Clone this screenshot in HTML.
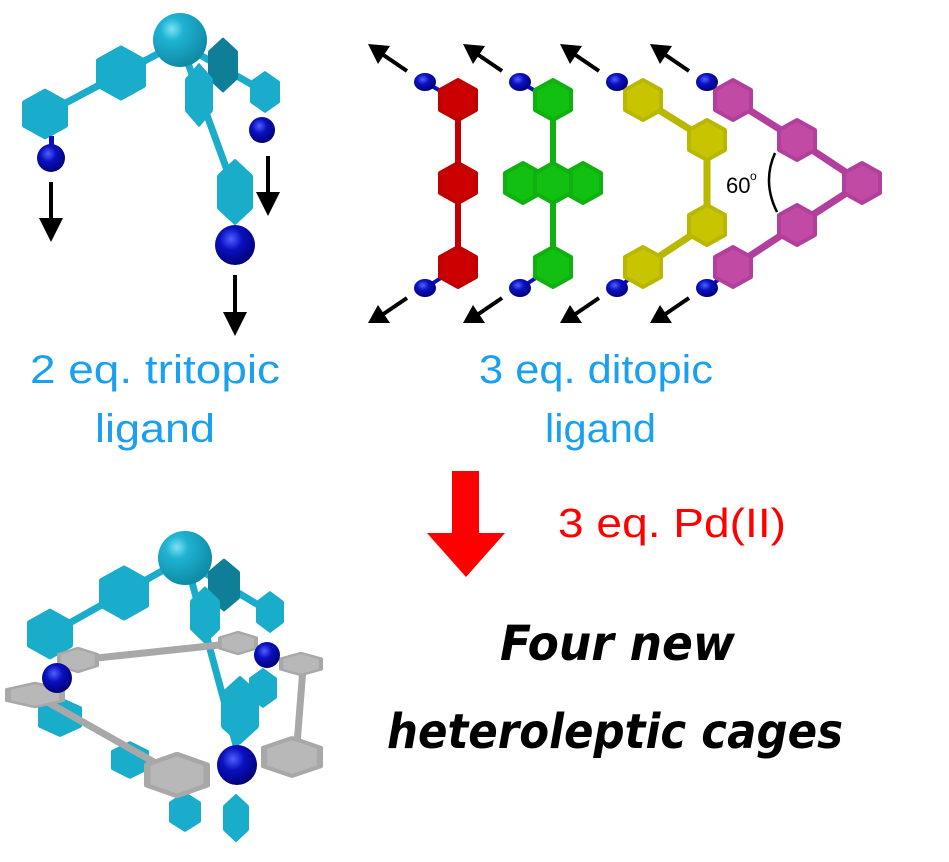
<!DOCTYPE html>
<html><head><meta charset="utf-8"><style>
html,body{margin:0;padding:0;background:#fff;}
svg{display:block}
text{font-family:"Liberation Sans",sans-serif}
</style></head><body>
<svg width="949" height="862" viewBox="0 0 949 862" xmlns="http://www.w3.org/2000/svg">
<defs>
<radialGradient id="cy" cx="0.35" cy="0.3" r="0.7"><stop offset="0" stop-color="#7fe0f2"/><stop offset="0.3" stop-color="#1fb3d3"/><stop offset="1" stop-color="#0f8ba6"/></radialGradient>
<radialGradient id="bl" cx="0.4" cy="0.35" r="0.7"><stop offset="0" stop-color="#5060ff"/><stop offset="0.4" stop-color="#0a10c0"/><stop offset="1" stop-color="#000070"/></radialGradient>
<g id="hx"><polygon points="-18,-10 0,-20 18,-10 18,10 0,20 -18,10" stroke-linejoin="round" stroke-width="4"/></g>
</defs>

<!-- tritopic ligand -->
<g fill="#1aaccb" stroke="#1aaccb">
<line x1="180" y1="42" x2="45" y2="114" stroke-width="7"/>
<line x1="185" y1="55" x2="235" y2="192" stroke-width="7"/>
<line x1="200" y1="55" x2="265" y2="92" stroke-width="7"/>
<use href="#hx" transform="translate(121,73) scale(1.25,1.25)"/>
<use href="#hx" transform="translate(45,114) scale(1.15,1.15)"/>
<use href="#hx" transform="translate(223,65) scale(0.75,1.25)" fill="#0f7f98" stroke="#0f7f98"/>
<use href="#hx" transform="translate(265,92) scale(0.75,0.95)"/>
<use href="#hx" transform="translate(199,95) scale(0.7,1.45)"/>
<use href="#hx" transform="translate(235,192) scale(0.9,1.5)"/>
</g>
<circle cx="180" cy="40" r="27" fill="url(#cy)"/>
<rect x="49" y="136" width="5" height="12" fill="#0a10c0"/>
<circle cx="51" cy="158" r="14" fill="url(#bl)"/>
<circle cx="262" cy="130" r="13" fill="url(#bl)"/>
<circle cx="235" cy="245" r="20" fill="url(#bl)"/>
<g stroke="#000" stroke-width="4">
<line x1="51" y1="182" x2="51" y2="225"/><polygon points="39,218 63,218 51,242" fill="#000" stroke="none"/>
<line x1="268" y1="156" x2="268" y2="198"/><polygon points="256,192 280,192 268,216" fill="#000" stroke="none"/>
<line x1="235" y1="275" x2="235" y2="318"/><polygon points="223,312 247,312 235,336" fill="#000" stroke="none"/>
</g>
<text x="30" y="383" font-size="40" fill="#1aa0ee" textLength="250" lengthAdjust="spacingAndGlyphs">2 eq. tritopic</text>
<text x="95" y="442" font-size="40" fill="#1aa0ee" textLength="120" lengthAdjust="spacingAndGlyphs">ligand</text>

<!-- N-ring bonds -->
<g stroke="#0a10c0" stroke-width="4">
<line x1="430" y1="85" x2="444" y2="93"/><line x1="430" y1="285" x2="444" y2="276"/>
<line x1="525" y1="85" x2="539" y2="93"/><line x1="525" y1="285" x2="539" y2="276"/>
<line x1="622" y1="85" x2="630" y2="92"/><line x1="622" y1="285" x2="630" y2="278"/>
<line x1="712" y1="85" x2="720" y2="92"/><line x1="712" y1="285" x2="720" y2="278"/>
</g>

<!-- ditopic ligands -->
<g stroke="#c00000" fill="#cc0000">
<line x1="458" y1="100" x2="458" y2="267" stroke-width="6"/>
<use href="#hx" transform="translate(458,100)"/><use href="#hx" transform="translate(458,183)"/><use href="#hx" transform="translate(458,267)"/>
</g>
<g stroke="#10b010" fill="#11c011">
<line x1="553" y1="100" x2="553" y2="267" stroke-width="6"/>
<use href="#hx" transform="translate(553,100)"/><use href="#hx" transform="translate(523,183)"/><use href="#hx" transform="translate(583,183)"/><use href="#hx" transform="translate(553,183)"/><use href="#hx" transform="translate(553,267)"/>
</g>
<g stroke="#b8b800" fill="#c8c400">
<polyline points="643,100 707,140 707,225 643,267" fill="none" stroke-width="7"/>
<use href="#hx" transform="translate(643,100)"/><use href="#hx" transform="translate(707,140)"/><use href="#hx" transform="translate(707,225)"/><use href="#hx" transform="translate(643,267)"/>
</g>
<g stroke="#b33f9c" fill="#c04aa4">
<polyline points="733,100 797,140 862,183 797,225 733,267" fill="none" stroke-width="7"/>
<use href="#hx" transform="translate(733,100)"/><use href="#hx" transform="translate(797,140)"/><use href="#hx" transform="translate(862,183)"/><use href="#hx" transform="translate(797,225)"/><use href="#hx" transform="translate(733,267)"/>
</g>
<g fill="url(#bl)">
<ellipse cx="425" cy="82" rx="11" ry="9"/><ellipse cx="425" cy="288" rx="11" ry="9"/>
<ellipse cx="520" cy="82" rx="11" ry="9"/><ellipse cx="520" cy="288" rx="11" ry="9"/>
<ellipse cx="617" cy="82" rx="11" ry="9"/><ellipse cx="617" cy="288" rx="11" ry="9"/>
<ellipse cx="707" cy="82" rx="11" ry="9"/><ellipse cx="707" cy="288" rx="11" ry="9"/>
</g>
<g stroke="#000" stroke-width="4">
<line x1="407" y1="71" x2="382" y2="54"/><polygon points="368,44 390,46 378,64" fill="#000" stroke="none"/>
<line x1="502" y1="71" x2="477" y2="54"/><polygon points="463,44 485,46 473,64" fill="#000" stroke="none"/>
<line x1="599" y1="71" x2="574" y2="54"/><polygon points="560,44 582,46 570,64" fill="#000" stroke="none"/>
<line x1="689" y1="71" x2="664" y2="54"/><polygon points="650,44 672,46 660,64" fill="#000" stroke="none"/>
<line x1="407" y1="298" x2="382" y2="315"/><polygon points="368,323 390,323 378,305" fill="#000" stroke="none"/>
<line x1="502" y1="298" x2="477" y2="315"/><polygon points="463,323 485,323 473,305" fill="#000" stroke="none"/>
<line x1="599" y1="298" x2="574" y2="315"/><polygon points="560,323 582,323 570,305" fill="#000" stroke="none"/>
<line x1="689" y1="298" x2="664" y2="315"/><polygon points="650,323 672,323 660,305" fill="#000" stroke="none"/>
</g>
<text x="726" y="193" font-size="22" fill="#000">60</text><text x="750" y="180" font-size="12" fill="#000">o</text>
<path d="M775,153 Q762,182 777,212" fill="none" stroke="#000" stroke-width="2.5"/>
<text x="479" y="383" font-size="40" fill="#1aa0ee" textLength="234" lengthAdjust="spacingAndGlyphs">3 eq. ditopic</text>
<text x="545" y="442" font-size="40" fill="#1aa0ee" textLength="111" lengthAdjust="spacingAndGlyphs">ligand</text>

<!-- red arrow -->
<polygon points="452,471 479,471 479,533 505,533 466,577 427,533 452,533" fill="#ff0000"/>
<text x="558" y="537" font-size="41" fill="#ff0000" textLength="228" lengthAdjust="spacingAndGlyphs">3 eq. Pd(II)</text>
<text x="500" y="660" font-size="48" font-weight="bold" font-style="italic" fill="#000" textLength="235" lengthAdjust="spacingAndGlyphs" style="font-family:'DejaVu Sans',sans-serif">Four new</text>
<text x="387" y="748" font-size="48" font-weight="bold" font-style="italic" fill="#000" textLength="456" lengthAdjust="spacingAndGlyphs" style="font-family:'DejaVu Sans',sans-serif">heteroleptic cages</text>

<!-- cage -->
<g fill="#1aaccb" stroke="#1aaccb">
<line x1="185" y1="558" x2="50" y2="634" stroke-width="7"/>
<line x1="190" y1="575" x2="240" y2="760" stroke-width="7"/>
<line x1="200" y1="570" x2="270" y2="612" stroke-width="7"/>
<use href="#hx" transform="translate(124,593) scale(1.25,1.25)"/>
<use href="#hx" transform="translate(50,634) scale(1.15,1.15)"/>
<use href="#hx" transform="translate(224,585) scale(0.8,1.2)" fill="#0f7f98" stroke="#0f7f98"/>
<use href="#hx" transform="translate(270,612) scale(0.7,0.95)"/>
<use href="#hx" transform="translate(205,615) scale(0.75,1.3)"/>
<use href="#hx" transform="translate(240,710) scale(0.95,1.55)"/>
<use href="#hx" transform="translate(263,688) scale(0.7,0.9)"/>
<use href="#hx" transform="translate(60,717) scale(1.1,0.9)"/>
<use href="#hx" transform="translate(130,760) scale(0.95,0.85)"/>
<use href="#hx" transform="translate(185,812) scale(0.8,0.9)"/>
<use href="#hx" transform="translate(236,818) scale(0.65,1.1)"/>
</g>
<g stroke="#a8a8a8" fill="#b8b8b8">
<line x1="78" y1="660" x2="238" y2="643" stroke-width="7"/>
<line x1="35" y1="695" x2="177" y2="775" stroke-width="7"/>
<line x1="303" y1="668" x2="296" y2="757" stroke-width="7"/>
<use href="#hx" transform="translate(78,660) scale(1.05,0.6)"/>
<use href="#hx" transform="translate(238,643) scale(1,0.55)"/>
<use href="#hx" transform="translate(35,695) scale(1.5,0.6)"/>
<use href="#hx" transform="translate(177,775) scale(1.65,1.05)"/>
<use href="#hx" transform="translate(301,664) scale(1.1,0.55)"/>
<use href="#hx" transform="translate(292,757) scale(1.55,0.95)"/>
</g>
<circle cx="185" cy="558" r="27" fill="url(#cy)"/>
<circle cx="57" cy="678" r="15" fill="url(#bl)"/>
<circle cx="267" cy="655" r="13" fill="url(#bl)"/>
<circle cx="237" cy="765" r="20" fill="url(#bl)"/>
</svg>
</body></html>
